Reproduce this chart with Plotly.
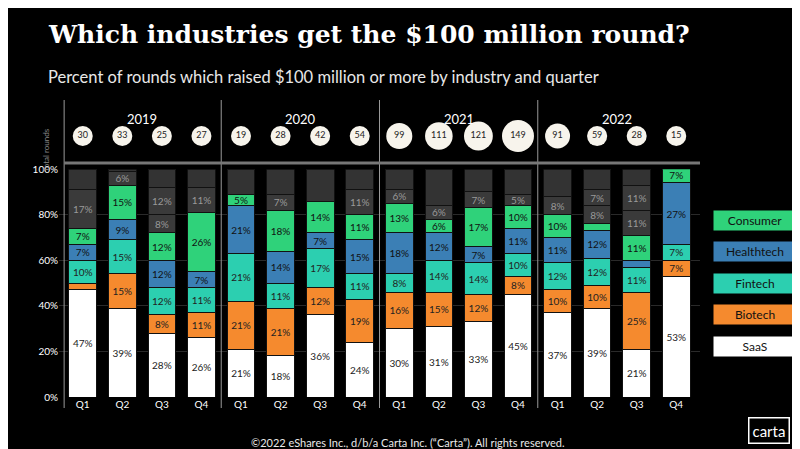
import plotly.graph_objects as go

years = ["2019", "2020", "2021", "2022"]
quarters = ["Q1", "Q2", "Q3", "Q4"]
total_rounds = [30, 33, 25, 27, 19, 28, 42, 54, 99, 111, 121, 149, 91, 59, 28, 15]

saas = [47, 39, 28, 26, 21, 18, 36, 24, 30, 31, 33, 45, 37, 39, 21, 53]
biotech = [3, 15, 8, 11, 21, 21, 12, 19, 16, 15, 12, 8, 10, 10, 25, 7]
fintech = [10, 15, 12, 11, 21, 11, 17, 11, 8, 14, 14, 10, 12, 12, 11, 7]
healthtech = [7, 9, 12, 7, 21, 14, 7, 15, 18, 12, 7, 11, 11, 12, 3, 27]
consumer = [7, 15, 12, 26, 5, 18, 14, 11, 13, 6, 17, 10, 10, 3, 11, 7]
other_a = [17, 6, 8, 11, 0, 7, 0, 11, 6, 6, 7, 5, 8, 8, 11, 0]
other_b = [0, 0, 12, 0, 0, 0, 0, 0, 0, 0, 0, 0, 0, 7, 11, 0]

n = len(saas)
x = list(range(n))
other_rest = [max(0, 100 - saas[i] - biotech[i] - fintech[i] - healthtech[i] - consumer[i] - other_a[i] - other_b[i]) for i in x]

L, R, T, B = 51, 108, 88, 60
PW, PH = 800 - L - R, 449 - T - B

def px_x(p):
    return (p - L) / PW

def px_y(p):
    return (449 - B - p) / PH

def lbl(vals, show=True):
    return [f"{v}%" if (v >= 5 and show) else "" for v in vals]

fig = go.Figure()
series = [
    ("SaaS", saas, "#ffffff", "#222", True),
    ("Biotech", biotech, "#f58a2e", "#222", True),
    ("Fintech", fintech, "#2ccfb0", "#222", True),
    ("Healthtech", healthtech, "#3b7fb5", "#111", True),
    ("Consumer", consumer, "#2fd27a", "#111", True),
    ("Other A", other_a, "#3a3a3a", "#999", True),
    ("Other B", other_b, "#3a3a3a", "#999", True),
    ("Other", other_rest, "#333333", "#999", False),
]
for name, vals, col, tcol, show in series:
    fig.add_trace(go.Bar(
        x=x, y=vals, name=name, marker=dict(color=col, line=dict(color="#111", width=1)),
        text=lbl(vals, show), textposition="inside", insidetextanchor="middle",
        textfont=dict(color=tcol, size=10, family="Lato"), textangle=0,
        showlegend=False, hoverinfo="skip", width=0.7,
    ))

# total rounds bubbles
fig.add_trace(go.Scatter(
    x=x, y=[0] * n, yaxis="y2", mode="markers+text",
    marker=dict(size=total_rounds, sizemode="area", sizeref=2 * 149 / 32 ** 2, sizemin=10,
                color="#f7f4ec", opacity=1, line=dict(width=0)),
    text=[str(t) for t in total_rounds], textfont=dict(color="#222", size=9, family="Lato"),
    showlegend=False, hoverinfo="skip", cliponaxis=False,
))

anns = [
    dict(text="<b>Which industries get the $100 million round?</b>", x=px_x(38), y=px_y(10),
         xanchor="left", yanchor="top", font=dict(family="DejaVu Serif", size=25, color="white")),
    dict(text="Percent of rounds which raised $100 million or more by industry and quarter", x=px_x(38), y=px_y(57),
         xanchor="left", yanchor="top", font=dict(family="Lato", size=16.5, color="#e8e8e8")),
    dict(text="©2022 eShares Inc., d/b/a Carta Inc. (“Carta”). All rights reserved.", x=px_x(400), y=px_y(434),
         xanchor="center", yanchor="middle", font=dict(family="Lato", size=11, color="#e8e8e8")),
    dict(text="carta", x=px_x(782), y=px_y(422), xanchor="right", yanchor="middle",
         font=dict(family="Lato", size=15, color="white"), bordercolor="white", borderwidth=1.5, borderpad=3),
    dict(text="Total rounds", x=px_x(38), y=px_y(118), textangle=-90, xanchor="center",
         font=dict(family="Lato", size=8, color="#888")),
]
for k, yr in enumerate(years):
    anns.append(dict(text=yr, x=(4 * k + 1.5 + 0.6) / 16.2, y=px_y(101), xanchor="center",
                     font=dict(family="Lato", size=13, color="white")))

legend_items = [("Consumer", "#2fd27a", "#111"), ("Healthtech", "#3b7fb5", "#111"), ("Fintech", "#2ccfb0", "#111"),
                ("Biotech", "#f58a2e", "#111"), ("SaaS", "#ffffff", "#111")]
for j, (nm, col, tc) in enumerate(legend_items):
    anns.append(dict(text=nm, x=px_x(747), y=px_y(212 + j * 31.5), xanchor="center", yanchor="middle",
                     font=dict(family="Lato", size=12, color=tc), bgcolor=col, width=80, height=17))
for a in anns:
    a.update(xref="paper", yref="paper", showarrow=False)

shapes = [dict(type="line", x0=b, x1=b, y0=px_y(92), y1=px_y(400), xref="x", yref="paper", line=dict(color="#999", width=1))
          for b in [-0.47, 3.5, 7.5, 11.5]]
shapes.append(dict(type="line", x0=-0.47, x1=15.6, y0=px_y(155), y1=px_y(155), xref="x", yref="paper",
                   line=dict(color="#777", width=3)))

fig.update_layout(
    width=800, height=449, barmode="stack", bargap=0.3,
    paper_bgcolor="black", plot_bgcolor="black",
    margin=dict(l=L, r=R, t=T, b=B),
    font=dict(family="Lato", color="white"),
    uniformtext=dict(minsize=9, mode="show"),
    xaxis=dict(tickmode="array", tickvals=x, ticktext=quarters * 4, range=[-0.6, 15.6], automargin=False,
               showgrid=False, zeroline=False, tickfont=dict(size=10, color="white"), ticks=""),
    yaxis=dict(domain=[0, 0.757], range=[0, 100], tickvals=[0, 20, 40, 60, 80, 100], automargin=False,
               ticktext=["0%", "20%", "40%", "60%", "80%", "100%"],
               gridcolor="#2a2a2a", zeroline=False, tickfont=dict(size=10, color="white")),
    yaxis2=dict(domain=[0.79, 1.0], range=[-0.58, 1], visible=False),
    annotations=anns, shapes=shapes,
)
fig.write_html("out.html")
